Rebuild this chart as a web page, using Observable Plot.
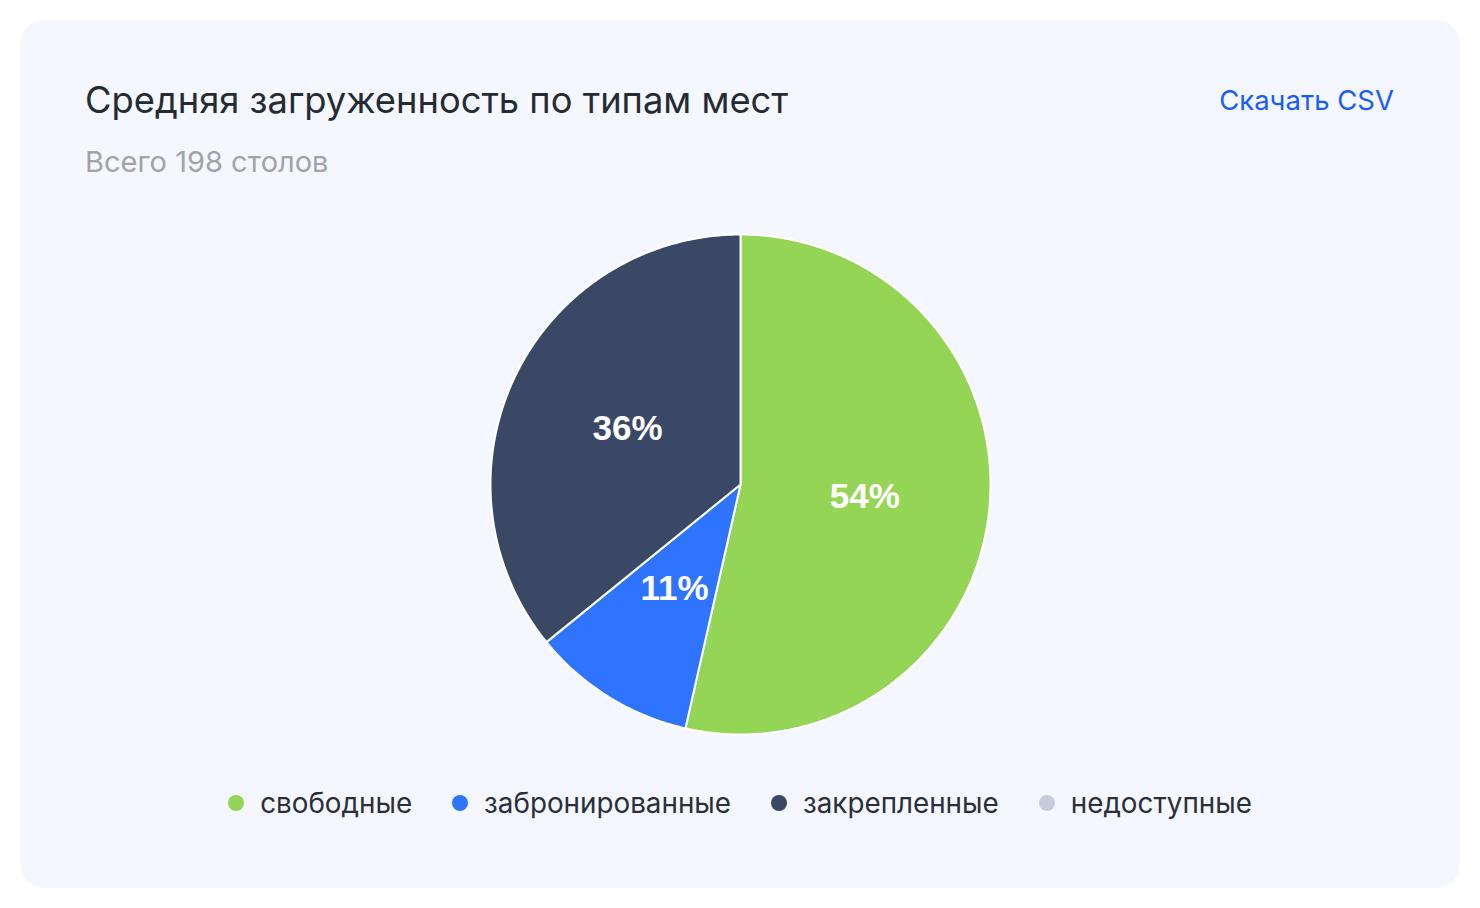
<!DOCTYPE html>
<html>
<head>
<meta charset="utf-8">
<script src="https://cdn.jsdelivr.net/npm/d3@7"></script>
<script src="https://cdn.jsdelivr.net/npm/@observablehq/plot@0.6"></script>
<style>
  html, body { margin: 0; padding: 0; background: #ffffff; }
  body { width: 1480px; height: 908px; position: relative; overflow: hidden; font-family: Inter, "Noto Sans", sans-serif; }
  #card { position: absolute; left: 20px; top: 20px; width: 1440px; height: 868px; border-radius: 24px; background: #f4f7fe; }
  #title { position: absolute; left: 65px; top: 58px; font-size: 36.3px; color: #262a33; font-weight: 400; white-space: nowrap; }
  #subtitle { position: absolute; left: 65px; top: 124px; font-size: 29px; color: #a2a3a8; white-space: nowrap; }
  #csv { position: absolute; right: 66px; top: 63px; font-size: 27.5px; color: #1a5cff; white-space: nowrap; }
  #chart { position: absolute; left: 0; top: 194px; }
  #legend { position: absolute; left: 0; width: 1440px; top: 766px; display: flex; justify-content: center; align-items: center; font-size: 27.8px; color: #2a2f3a; }
  .item { display: flex; align-items: center; margin: 0 20px; }
  .dot { width: 16px; height: 16px; border-radius: 50%; margin-right: 16px; }
</style>
</head>
<body>
<div id="card">
  <div id="title"></div>
  <div id="subtitle"></div>
  <div id="csv"></div>
  <div id="chart"></div>
  <div id="legend"></div>
</div>
<script>
// ---- data ----
const titleText = "Средняя загруженность по типам мест";
const subtitleText = "Всего 198 столов";
const linkText = "Скачать CSV";
const categories = ["свободные", "забронированные", "закрепленные", "недоступные"];
const counts = [106, 21, 71, 0];
const colors = ["#94d555", "#2f74ff", "#3a4866", "#c5cedc"];

document.getElementById("title").textContent = titleText;
document.getElementById("subtitle").textContent = subtitleText;
document.getElementById("csv").textContent = linkText;

const total = d3.sum(counts);
const slices = categories.map((c, i) => ({key: c, value: counts[i]}));
const arcs = d3.pie().sort(null).value(d => d.value)(slices);

// polygon points for each slice (unit circle, angle clockwise from top)
const pts = [];
for (const a of arcs) {
  if (a.endAngle - a.startAngle <= 0) continue;
  pts.push({key: a.data.key, x: 0, y: 0});
  const n = Math.max(2, Math.ceil((a.endAngle - a.startAngle) / (Math.PI / 360)));
  for (let k = 0; k <= n; k++) {
    const t = a.startAngle + (a.endAngle - a.startAngle) * k / n;
    pts.push({key: a.data.key, x: Math.sin(t), y: Math.cos(t)});
  }
  pts.push({key: a.data.key, x: 0, y: 0});
}
const labels = arcs.filter(a => a.value > 0).map(a => {
  const m = (a.startAngle + a.endAngle) / 2;
  return {key: a.data.key, x: 0.5 * Math.sin(m), y: 0.5 * Math.cos(m), text: Math.round(a.value / total * 100) + "%"};
});

const W = 1440, H = 540, cx = 720, cy = 270, R = 250;
const chart = Plot.plot({
  width: W, height: H,
  margin: 0,
  style: {background: "transparent", overflow: "visible"},
  x: {domain: [-1, 1], range: [cx - R, cx + R], axis: null},
  y: {domain: [-1, 1], range: [cy + R, cy - R], axis: null},
  color: {domain: categories, range: colors},
  marks: [
    Plot.line(pts, {x: "x", y: "y", z: "key", fill: "key", stroke: "#ffffff", strokeWidth: 2, strokeLinejoin: "round", curve: "linear"}),
    Plot.text(labels, {x: "x", y: "y", dy: -1.5, text: "text", fill: "#ffffff", fontSize: 35, fontWeight: "bold", fontFamily: "'Liberation Sans', Arial, sans-serif"})
  ]
});
document.getElementById("chart").appendChild(chart);

const legend = document.getElementById("legend");
categories.forEach((c, i) => {
  const item = document.createElement("div");
  item.className = "item";
  const dot = document.createElement("span");
  dot.className = "dot";
  dot.style.background = colors[i];
  const lab = document.createElement("span");
  lab.textContent = c;
  item.appendChild(dot); item.appendChild(lab);
  legend.appendChild(item);
});
</script>
</body>
</html>
